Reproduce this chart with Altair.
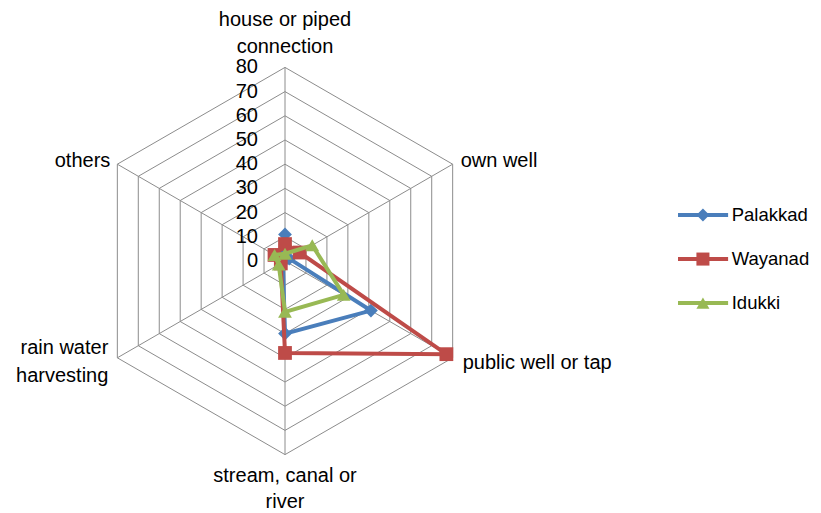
import altair as alt
import pandas as pd

# ---------------- data ----------------
categories = ["house or piped\nconnection", "own well", "public well or tap",
              "stream, canal or\nriver", "rain water\nharvesting", "others"]
series = ["Palakkad", "Wayanad", "Idukki"]
palakkad = [11, 2, 41, 30, 1, 2]
wayanad = [7, 7, 77, 38, 2, 5]
idukki = [3, 13, 28, 21, 3, 5]
ring_values = [10, 20, 30, 40, 50, 60, 70, 80]
tick_values = [0, 10, 20, 30, 40, 50, 60, 70, 80]
tick_labels = ["0", "10", "20", "30", "40", "50", "60", "70", "80"]
colors = ["#4A7EBB", "#BE4B48", "#98B954"]
shapes = ["diamond", "square", "triangle-up"]

# ---------------- layout ----------------
W, H = 805, 503
PX = 2.42          # pixels per unit
CX, CY = 277, 253  # centre in plot coordinates
XDOM = [-CX / PX, (W - CX) / PX]
YDOM = [-(H - CY) / PX, CY / PX]
FONT = "Liberation Sans"
FS = 20

xs = alt.Scale(domain=XDOM, nice=False, zero=False)
ys = alt.Scale(domain=YDOM, nice=False, zero=False)
X = lambda f: alt.X(f + ":Q", scale=xs, axis=None)
Y = lambda f: alt.Y(f + ":Q", scale=ys, axis=None)

XC = "datum.r * sin(2 * PI * datum.idx / 6)"
YC = "datum.r * cos(2 * PI * datum.idx / 6)"

# rings
ring_rows = [{"ring": r, "idx": i, "r": r} for r in ring_values for i in range(7)]
rings = alt.Chart(pd.DataFrame(ring_rows)).transform_calculate(
    px=XC, py=YC
).mark_line(color="#8C8C8C", strokeWidth=1).encode(
    x=X("px"), y=Y("py"), detail="ring:N", order="idx:Q"
)

# spokes
spoke_rows = [{"idx": i, "r": max(ring_values)} for i in range(6)]
spokes = alt.Chart(pd.DataFrame(spoke_rows)).transform_calculate(
    px=XC, py=YC, zero="0"
).mark_rule(color="#8C8C8C", strokeWidth=1).encode(
    x=X("zero"), y=Y("zero"), x2="px:Q", y2="py:Q"
)

# tick labels
ticks = alt.Chart(pd.DataFrame({"v": tick_values, "lab": tick_labels})).transform_calculate(
    zero="0"
).mark_text(align="right", baseline="middle", dx=-27, font=FONT, fontSize=FS,
            color="#000000").encode(x=X("zero"), y=Y("v"), text="lab:N")

# category labels (dy places the first line)
label_specs = [  # align, dx, dy, lineHeight
    ("center", 0, -47, 27),
    ("left", 8, -3, 28),
    ("left", 10, 5, 28),
    ("center", 0, 21, 26),
    ("right", -9, -10, 28),
    ("right", -7, -3, 28),
]
label_layers = []
for i, (cat, (al, dx, dy, lh)) in enumerate(zip(categories, label_specs)):
    d = pd.DataFrame({"lab": [cat], "idx": [i], "r": [max(ring_values)]})
    label_layers.append(
        alt.Chart(d).transform_calculate(px=XC, py=YC).mark_text(
            align=al, baseline="middle", dx=dx, dy=dy, lineBreak="\n", lineHeight=lh,
            font=FONT, fontSize=FS, color="#000000"
        ).encode(x=X("px"), y=Y("py"), text="lab:N")
    )

# series data
rows = []
for s, vals in zip(series, [palakkad, wayanad, idukki]):
    for i in range(7):
        rows.append({"series": s, "idx": i, "r": vals[i % 6]})
sdf = pd.DataFrame(rows)

series_layers = []
for s, c, sh in zip(series, colors, shapes):
    base = alt.Chart(sdf).transform_filter(alt.datum.series == s).transform_calculate(px=XC, py=YC)
    ln = base.mark_line(color=c, strokeWidth=4).encode(x=X("px"), y=Y("py"), order="idx:Q")
    pt = base.transform_filter(alt.datum.idx < 6).mark_point(
        shape=sh, filled=True, color=c, opacity=1, size=190
    ).encode(x=X("px"), y=Y("py"))
    series_layers += [ln, pt]

# legend (manual)
leg = pd.DataFrame({"series": series, "k": [0, 1, 2]})
legend_layers = []
for s, c, sh, k in zip(series, colors, shapes, range(3)):
    lb = alt.Chart(leg).transform_filter(alt.datum.series == s).transform_calculate(
        ly="19 - 18.2 * datum.k", lx1="162.4", lx2="183.1", lxm="172.7", lxt="184.6"
    )
    legend_layers += [
        lb.mark_rule(color=c, strokeWidth=4).encode(x=X("lx1"), x2="lx2:Q", y=Y("ly")),
        lb.mark_point(shape=sh, filled=True, color=c, opacity=1, size=170).encode(x=X("lxm"), y=Y("ly")),
        lb.mark_text(align="left", baseline="middle", font=FONT, fontSize=18.5, color="#000000").encode(
            x=X("lxt"), y=Y("ly"), text="series:N"),
    ]

chart = alt.layer(rings, spokes, ticks, *label_layers, *series_layers, *legend_layers).properties(
    width=W, height=H, autosize=alt.AutoSizeParams(type="none"), padding=0
).configure_view(stroke=None)

chart.save("out.html", embed_options={"renderer": "svg", "actions": False})
